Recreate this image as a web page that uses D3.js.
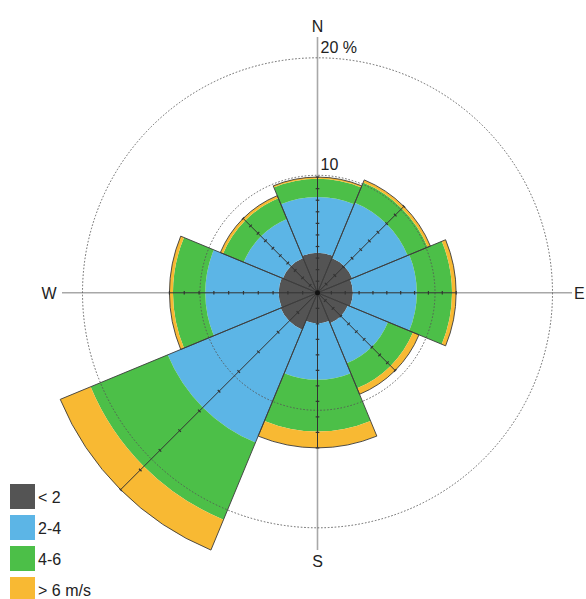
<!DOCTYPE html>
<html><head><meta charset="utf-8">
<script src="https://cdn.jsdelivr.net/npm/d3@7"></script>
<style>body{margin:0;background:#fff}svg{display:block}text{font-family:"Liberation Sans",Arial,sans-serif;fill:#222}</style>
</head><body>
<svg id="c" width="586" height="599"></svg>
<script>
// Directions (sectors of 45°, centred on N, NE, ...)
const directions = ["N","NE","E","SE","S","SW","W","NW"];
// Frequency (%) per speed class in each direction
const speedLt2 = [3.4, 3.2, 3.0, 2.8, 2.6, 3.4, 3.3, 3.2];
const speed2to4 = [4.75, 5.1, 5.45, 3.7, 4.8, 10.4, 6.25, 3.6];
const speed4to6 = [1.55, 1.85, 3.0, 2.3, 4.4, 7.1, 2.75, 1.9];
const speedGt6 = [0.15, 0.25, 0.35, 0.55, 1.4, 2.8, 0.3, 0.25];
const classLabels = ["< 2", "2-4", "4-6", "> 6 m/s"];
const classColors = ["#545454", "#5cb5e6", "#4cbf48", "#f8b933"];
const ringValues = [10, 20];
const ringLabels = ["10", "20 %"];
const compassLabels = ["N", "E", "S", "W"];

const svg = d3.select("#c");
const cx = 317.5, cy = 292.8;
const r = d3.scaleLinear().domain([0, 20]).range([0, 235]);
const series = [speedLt2, speed2to4, speed4to6, speedGt6];
const rad = d => d * Math.PI / 180;
const half = 22.5;

const g = svg.append("g").attr("transform", `translate(${cx},${cy})`);

// gray compass axes
g.append("line").attr("x1", 0).attr("x2", 0).attr("y1", 37 - cy).attr("y2", 550 - cy)
  .attr("stroke", "#a8a8a8").attr("stroke-width", 1.6);
g.append("line").attr("y1", 0).attr("y2", 0).attr("x1", 62 - cx).attr("x2", 572 - cx)
  .attr("stroke", "#a8a8a8").attr("stroke-width", 1.6);

// stacked bands
const arc = d3.arc();
const totals = directions.map((d, i) => series.reduce((s, a) => s + a[i], 0));
directions.forEach((d, i) => {
  let cum = 0;
  series.forEach((arr, k) => {
    const inner = cum; cum += arr[i];
    g.append("path")
      .attr("d", arc({innerRadius: r(inner), outerRadius: r(cum),
        startAngle: rad(i * 45 - half), endAngle: rad(i * 45 + half)}))
      .attr("fill", classColors[k]);
  });
});

// rings
ringValues.forEach(v => {
  g.append("circle").attr("r", r(v)).attr("fill", "none")
    .attr("stroke", "#555").attr("stroke-width", 0.9).attr("stroke-dasharray", "1.6,1.8");
});

// sector outlines
directions.forEach((d, i) => {
  g.append("path")
    .attr("d", arc({innerRadius: 0, outerRadius: r(totals[i]),
      startAngle: rad(i * 45 - half), endAngle: rad(i * 45 + half)}))
    .attr("fill", "none").attr("stroke", "#3b3b3b").attr("stroke-width", 0.9)
    .attr("stroke-linejoin", "round");
});

// centre lines with ticks (10 divisions)
directions.forEach((d, i) => {
  const a = rad(i * 45);
  const R = r(totals[i]);
  const ux = Math.sin(a), uy = -Math.cos(a);
  g.append("line").attr("x1", 0).attr("y1", 0).attr("x2", ux * R).attr("y2", uy * R)
    .attr("stroke", "#333").attr("stroke-width", 1);
  for (let k = 1; k <= 10; k++) {
    const p = R * k / 10;
    g.append("line")
      .attr("x1", ux * p - uy * 1.8).attr("y1", uy * p + ux * 1.8)
      .attr("x2", ux * p + uy * 1.8).attr("y2", uy * p - ux * 1.8)
      .attr("stroke", "#333").attr("stroke-width", 1.2);
  }
});
g.append("circle").attr("r", 2.5).attr("fill", "#111");

// compass labels
const fs = 16;
svg.append("text").attr("x", cx).attr("y", 32).attr("text-anchor", "middle").attr("font-size", fs).text(compassLabels[0]);
svg.append("text").attr("x", 574).attr("y", 299).attr("text-anchor", "start").attr("font-size", fs).text(compassLabels[1]);
svg.append("text").attr("x", cx).attr("y", 567).attr("text-anchor", "middle").attr("font-size", fs).text(compassLabels[2]);
svg.append("text").attr("x", 49).attr("y", 299).attr("text-anchor", "middle").attr("font-size", fs).text(compassLabels[3]);

// ring labels
ringValues.forEach((v, i) => {
  svg.append("text").attr("x", cx + 3).attr("y", cy - r(v) - 5)
    .attr("font-size", fs).text(ringLabels[i]);
});

// legend
classLabels.forEach((t, i) => {
  const y = 484 + i * 31;
  svg.append("rect").attr("x", 10).attr("y", y).attr("width", 25).attr("height", 25).attr("fill", classColors[i]);
  svg.append("text").attr("x", 38).attr("y", y + 13).attr("dominant-baseline", "central")
    .attr("font-size", fs).text(t);
});
</script>
</body></html>
